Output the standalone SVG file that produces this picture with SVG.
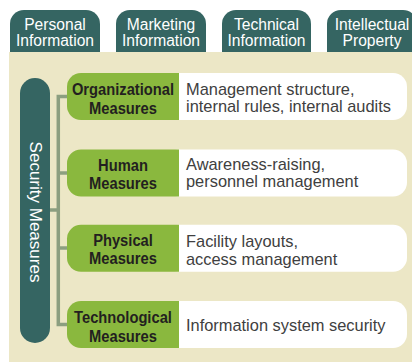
<svg xmlns="http://www.w3.org/2000/svg" width="412" height="362" viewBox="0 0 412 362">
<style>
.tab{fill:#356562}
.tabt{font-family:"Liberation Sans",Arial,sans-serif;font-size:15.6px;fill:#fff;text-anchor:middle}
.grn{fill:#8ab83e}
.wht{fill:#fff}
.gt{font-family:"Liberation Sans",Arial,sans-serif;font-size:16px;font-weight:bold;fill:#231f20;text-anchor:middle}
.wt{font-family:"Liberation Sans",Arial,sans-serif;font-size:16.4px;fill:#404040}
.conn{fill:none;stroke:#8c9f80;stroke-width:3.5}
</style>
<rect x="0" y="0" width="412" height="362" fill="#fff"/>
<rect x="9" y="52" width="403" height="310" fill="#ece7c6"/>

<g id="tab-personal">
<path class="tab" d="M10,52 V24 a14,14 0 0 1 14,-14 H86 a14,14 0 0 1 14,14 V52 Z"/>
<text class="tabt" x="55" y="29.5">Personal</text>
<text class="tabt" x="55" y="45.5">Information</text>
</g>
<g id="tab-marketing">
<path class="tab" d="M116,52 V24 a14,14 0 0 1 14,-14 H192 a14,14 0 0 1 14,14 V52 Z"/>
<text class="tabt" x="161" y="29.5">Marketing</text>
<text class="tabt" x="161" y="45.5">Information</text>
</g>
<g id="tab-technical">
<path class="tab" d="M222,52 V24 a14,14 0 0 1 14,-14 H297 a14,14 0 0 1 14,14 V52 Z"/>
<text class="tabt" x="266.5" y="29.5">Technical</text>
<text class="tabt" x="266.5" y="45.5">Information</text>
</g>
<g id="tab-ip">
<path class="tab" d="M327,52 V24 a14,14 0 0 1 14,-14 H403 a14,14 0 0 1 14,14 V52 Z"/>
<text class="tabt" x="372" y="29.5">Intellectual</text>
<text class="tabt" x="372" y="45.5">Property</text>
</g>

<g id="connectors">
<path class="conn" d="M67,96.5 H58.3 V324.5 H67"/>
<path class="conn" d="M50,210 H58.3"/>
<path class="conn" d="M58.3,173 H67"/>
<path class="conn" d="M58.3,248 H67"/>
</g>

<g id="security-measures">
<rect x="20" y="78" width="30" height="265" rx="15" fill="#356562"/>
<text transform="translate(29.5,212) rotate(90)" font-family="Liberation Sans, Arial, sans-serif" font-size="17" fill="#fff" text-anchor="middle">Security Measures</text>
</g>

<g id="node-organizational">
<rect class="wht" x="165" y="73" width="242" height="47" rx="14"/>
<path class="grn" d="M179,73 H81 a14,14 0 0 0 -14,14 V106 a14,14 0 0 0 14,14 H179 Z"/>
<text class="gt" transform="translate(123,95) scale(0.92,1)">Organizational</text>
<text class="gt" transform="translate(123,113.5) scale(0.92,1)">Measures</text>
<text class="wt" x="186" y="94.5">Management structure,</text>
<text class="wt" x="186" y="112">internal rules, internal audits</text>
</g>

<g id="node-human">
<rect class="wht" x="165" y="149.5" width="242" height="47" rx="14"/>
<path class="grn" d="M179,149.5 H81 a14,14 0 0 0 -14,14 V182.5 a14,14 0 0 0 14,14 H179 Z"/>
<text class="gt" transform="translate(123,170.5) scale(0.92,1)">Human</text>
<text class="gt" transform="translate(123,189) scale(0.92,1)">Measures</text>
<text class="wt" x="186" y="169.5">Awareness-raising,</text>
<text class="wt" x="186" y="187">personnel management</text>
</g>

<g id="node-physical">
<rect class="wht" x="165" y="224.8" width="242" height="47" rx="14"/>
<path class="grn" d="M179,224.8 H81 a14,14 0 0 0 -14,14 V257.8 a14,14 0 0 0 14,14 H179 Z"/>
<text class="gt" transform="translate(123,245.5) scale(0.92,1)">Physical</text>
<text class="gt" transform="translate(123,264) scale(0.92,1)">Measures</text>
<text class="wt" x="186" y="246.5">Facility layouts,</text>
<text class="wt" x="186" y="264.5">access management</text>
</g>

<g id="node-technological">
<rect class="wht" x="165" y="301" width="242" height="47" rx="14"/>
<path class="grn" d="M179,301 H81 a14,14 0 0 0 -14,14 V334 a14,14 0 0 0 14,14 H179 Z"/>
<text class="gt" transform="translate(123,322.5) scale(0.92,1)">Technological</text>
<text class="gt" transform="translate(123,341.5) scale(0.92,1)">Measures</text>
<text class="wt" x="186" y="331">Information system security</text>
</g>
</svg>
